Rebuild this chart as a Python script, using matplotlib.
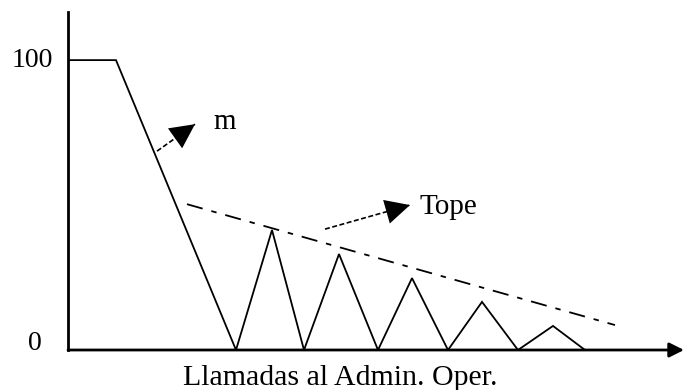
import matplotlib
matplotlib.use("Agg")
import matplotlib.pyplot as plt

# zig-zag curve (x in arbitrary units, y in % of 100)
curve_x = [0, 4.8, 16.8, 20.4, 23.6, 27.1, 31.0, 34.4, 38.0, 41.4, 45.0, 48.5, 51.7]
curve_y = [100, 100, 0, 41.4, 0, 33.1, 0, 24.8, 0, 16.6, 0, 8.3, 0]

# "Tope" limit line
tope_x = [11.9, 54.7]
tope_y = [50.3, 8.6]

# y labels
ytick_vals = [0, 100]
ytick_labels = ["0", "100"]

# annotation arrows: (shaft start, tip, label position)
m_start, m_tip, m_text = (8.9, 68.6), (12.7, 77.9), (14.5, 78.6)
tope_start, tope_tip, tope_text = (25.7, 41.7), (34.2, 50.0), (35.2, 49.3)

SERIF = "Liberation Serif"

fig = plt.figure(figsize=(6.85, 3.9), dpi=100)
ax = fig.add_axes([68 / 685, 40 / 390, (685 - 68) / 685, (350 - 12) / 390])
ax.set_xlim(0, 61.7)
ax.set_ylim(0, 116.6)
ax.patch.set_alpha(0)

for side in ("top", "right", "bottom"):
    ax.spines[side].set_visible(False)
ax.spines["left"].set_linewidth(2)

# x axis with arrow head
ax.annotate("", xy=(61.6, 0), xytext=(0, 0), xycoords="data",
            arrowprops=dict(arrowstyle="-|>", color="black", lw=2,
                            mutation_scale=22, shrinkA=0, shrinkB=0),
            annotation_clip=False)

ax.set_xticks([])
ax.set_yticks([])
# the two y labels are not aligned on the same edge in the original
ax.text(-1.5, ytick_vals[1], ytick_labels[1], fontfamily=SERIF, fontsize=20,
        ha="right", va="center")
ax.text(-2.6, ytick_vals[0], ytick_labels[0], fontfamily=SERIF, fontsize=20,
        ha="right", va="baseline")

ax.plot(curve_x, curve_y, color="black", lw=1.3, solid_joinstyle="miter")
ax.plot(tope_x, tope_y, color="black", lw=1.3, linestyle=(0, (9, 5, 3, 5)))

for start, tip, txt, label in [(m_start, m_tip, m_text, "m"),
                               (tope_start, tope_tip, tope_text, "Tope")]:
    ax.plot([start[0], tip[0]], [start[1], tip[1]], color="black", lw=1.2,
            linestyle=(0, (3, 1.5)))
    ax.annotate("", xy=tip, xytext=start,
                arrowprops=dict(arrowstyle="-|>,head_length=0.8,head_width=0.4",
                                color="black", lw=0, mutation_scale=22,
                                shrinkA=0, shrinkB=0))
    ax.text(txt[0], txt[1], label, fontfamily=SERIF, fontsize=21,
            ha="left", va="center")

ax.text(27.2, -12.1, "Llamadas al Admin. Oper.", fontfamily=SERIF, fontsize=21.5,
        ha="center", va="baseline")

fig.savefig("out.png", dpi=100)
